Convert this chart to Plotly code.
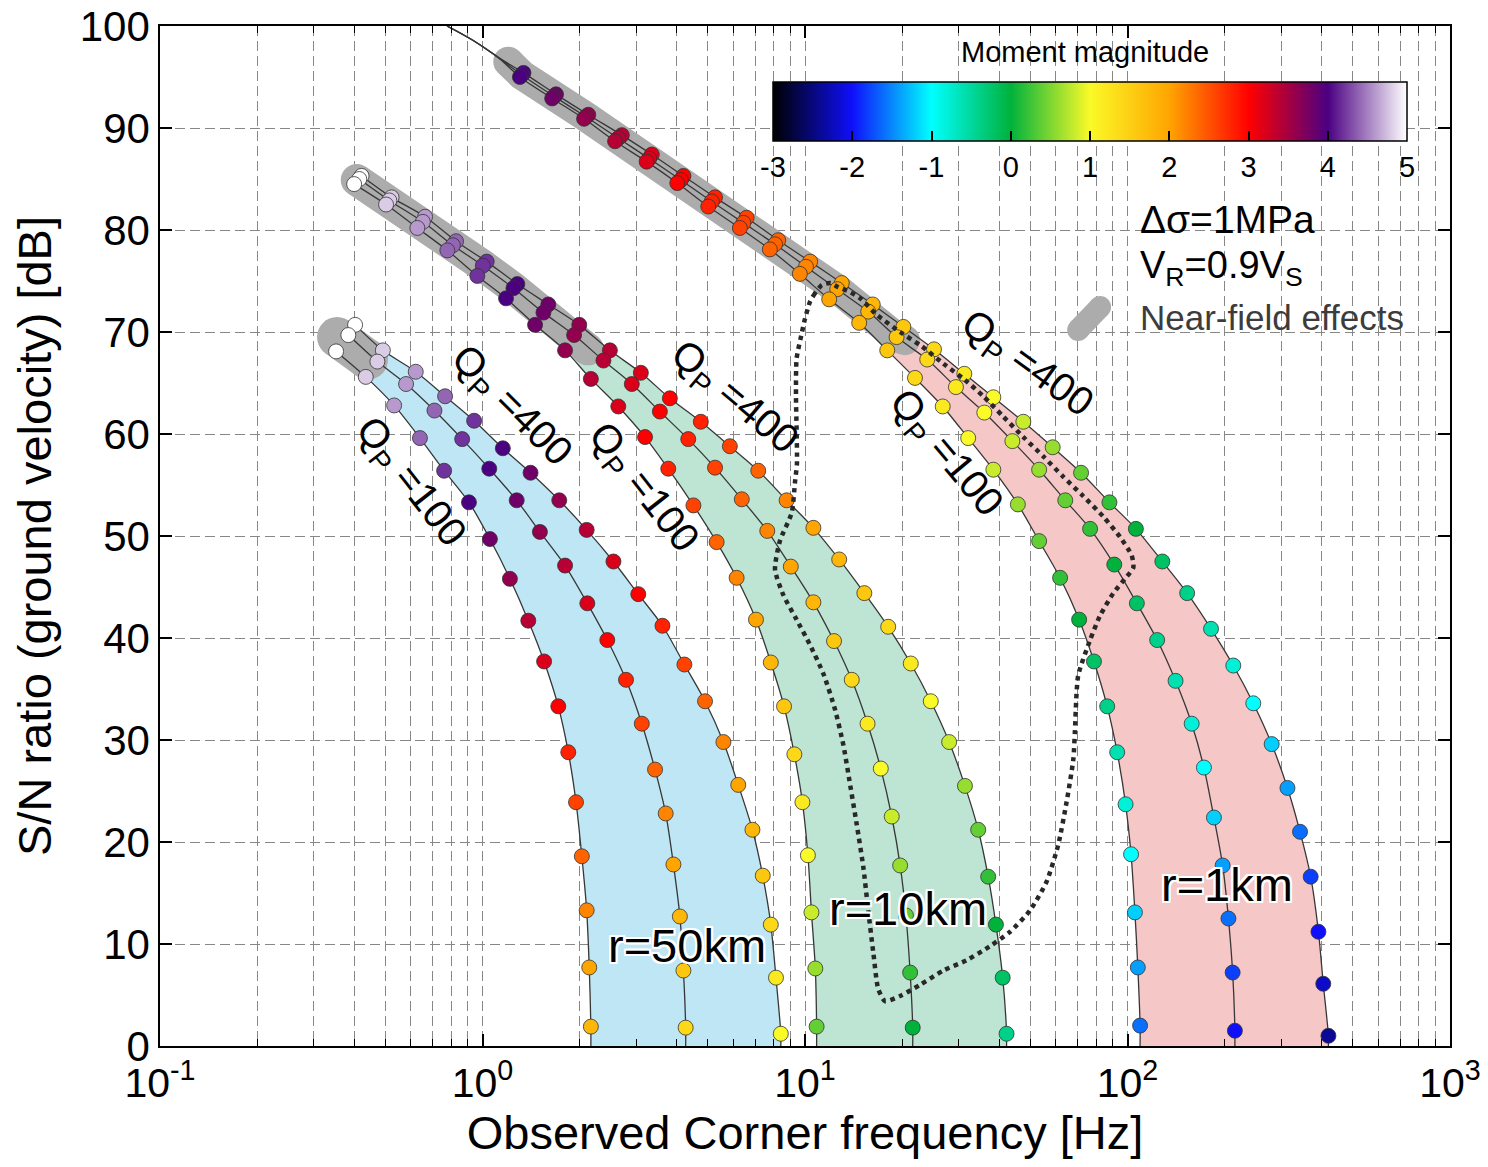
import plotly.graph_objects as go

FONT = "Liberation Sans, Arial, Helvetica, sans-serif"

# ---------------- data (log10 of corner frequency [Hz], S/N [dB], moment magnitude) ----------------
# r = 50 km
r50_q400_logf = [-0.395, -0.309, -0.207, -0.116, -0.026, 0.063, 0.149, 0.238, 0.323, 0.406, 0.483, 0.558, 0.626, 0.690, 0.747, 0.793, 0.837, 0.869, 0.894, 0.910, 0.925]
r50_q400_db = [70.7, 68.2, 66.1, 63.7, 61.3, 58.6, 56.2, 53.5, 50.6, 47.5, 44.3, 41.2, 37.4, 33.8, 29.8, 25.6, 21.2, 16.7, 11.9, 6.7, 1.2]
r50_q400_mw = [5.0, 4.8, 4.6, 4.4, 4.2, 4.0, 3.8, 3.6, 3.4, 3.2, 3.0, 2.8, 2.6, 2.4, 2.2, 2.0, 1.8, 1.6, 1.4, 1.2, 1.0]

r50_q200_logf = [-0.416, -0.326, -0.237, -0.149, -0.063, 0.021, 0.106, 0.178, 0.256, 0.325, 0.387, 0.445, 0.494, 0.535, 0.568, 0.592, 0.612, 0.623, 0.630]
r50_q200_db = [69.7, 67.1, 64.9, 62.3, 59.5, 56.6, 53.5, 50.4, 47.1, 43.4, 39.8, 35.9, 31.6, 27.1, 22.8, 17.8, 12.7, 7.4, 1.8]
r50_q200_mw = [5.0, 4.8, 4.6, 4.4, 4.2, 4.0, 3.8, 3.6, 3.4, 3.2, 3.0, 2.8, 2.6, 2.4, 2.2, 2.0, 1.8, 1.6, 1.4]

r50_q100_logf = [-0.454, -0.362, -0.274, -0.194, -0.119, -0.042, 0.023, 0.085, 0.142, 0.191, 0.235, 0.266, 0.290, 0.308, 0.323, 0.331, 0.336]
r50_q100_db = [68.1, 65.6, 62.8, 59.6, 56.4, 53.3, 49.7, 45.8, 41.7, 37.7, 33.3, 28.8, 23.9, 18.6, 13.3, 7.7, 1.9]
r50_q100_mw = [5.0, 4.8, 4.6, 4.4, 4.2, 4.0, 3.8, 3.6, 3.4, 3.2, 3.0, 2.8, 2.6, 2.4, 2.2, 2.0, 1.8]

# r = 10 km
r10_q400_logf = [-0.375, -0.282, -0.178, -0.082, 0.013, 0.108, 0.204, 0.300, 0.395, 0.491, 0.581, 0.677, 0.767, 0.855, 0.943, 1.026, 1.106, 1.184, 1.258, 1.328, 1.390, 1.447, 1.496, 1.537, 1.568, 1.592, 1.613, 1.625]
r10_q400_db = [85.3, 83.2, 81.3, 78.9, 76.9, 74.7, 72.7, 70.7, 68.2, 66.0, 63.5, 61.2, 58.8, 56.4, 53.5, 50.8, 47.7, 44.4, 41.1, 37.5, 33.8, 29.8, 25.5, 21.2, 16.6, 11.9, 6.7, 1.2]
r10_q400_mw = [5.0, 4.8, 4.6, 4.4, 4.2, 4.0, 3.8, 3.6, 3.4, 3.2, 3.0, 2.8, 2.6, 2.4, 2.2, 2.0, 1.8, 1.6, 1.4, 1.2, 1.0, 0.8, 0.6, 0.4, 0.2, 0.0, -0.2, -0.4]

r10_q200_logf = [-0.382, -0.289, -0.185, -0.092, 0.001, 0.096, 0.189, 0.284, 0.375, 0.463, 0.550, 0.638, 0.721, 0.804, 0.883, 0.956, 1.026, 1.090, 1.145, 1.194, 1.235, 1.269, 1.295, 1.313, 1.326, 1.334]
r10_q200_db = [85.0, 82.9, 80.8, 78.5, 76.5, 74.3, 71.9, 69.7, 67.2, 64.9, 62.2, 59.5, 56.7, 53.6, 50.5, 47.0, 43.5, 39.7, 35.9, 31.6, 27.2, 22.5, 17.7, 12.8, 7.2, 1.8]
r10_q200_mw = [5.0, 4.8, 4.6, 4.4, 4.2, 4.0, 3.8, 3.6, 3.4, 3.2, 3.0, 2.8, 2.6, 2.4, 2.2, 2.0, 1.8, 1.6, 1.4, 1.2, 1.0, 0.8, 0.6, 0.4, 0.2, 0.0]

r10_q100_logf = [-0.398, -0.299, -0.202, -0.109, -0.016, 0.073, 0.163, 0.256, 0.336, 0.421, 0.504, 0.576, 0.654, 0.726, 0.788, 0.848, 0.894, 0.935, 0.967, 0.992, 1.009, 1.020, 1.032, 1.036]
r10_q100_db = [84.5, 82.5, 80.2, 78.0, 75.5, 73.3, 70.7, 68.2, 65.4, 62.7, 59.7, 56.6, 53.0, 49.4, 45.9, 41.8, 37.6, 33.3, 28.6, 23.9, 18.7, 13.1, 7.6, 1.9]
r10_q100_mw = [5.0, 4.8, 4.6, 4.4, 4.2, 4.0, 3.8, 3.6, 3.4, 3.2, 3.0, 2.8, 2.6, 2.4, 2.2, 2.0, 1.8, 1.6, 1.4, 1.2, 1.0, 0.8, 0.6, 0.4]

# r = 1 km
r1_q400_logf = [0.127, 0.228, 0.328, 0.432, 0.525, 0.623, 0.721, 0.819, 0.917, 1.016, 1.114, 1.210, 1.305, 1.400, 1.494, 1.584, 1.677, 1.768, 1.856, 1.944, 2.026, 2.108, 2.185, 2.259, 2.328, 2.390, 2.447, 2.496, 2.535, 2.568, 2.592, 2.607, 2.623]
r1_q400_db = [95.4, 93.3, 91.3, 89.3, 87.4, 85.3, 83.2, 81.2, 79.0, 76.9, 74.8, 72.7, 70.5, 68.3, 65.9, 63.6, 61.2, 58.7, 56.2, 53.3, 50.7, 47.5, 44.4, 40.9, 37.3, 33.6, 29.6, 25.3, 21.0, 16.6, 11.2, 6.1, 1.0]
r1_q400_mw = [4.0, 3.8, 3.6, 3.4, 3.2, 3.0, 2.8, 2.6, 2.4, 2.2, 2.0, 1.8, 1.6, 1.4, 1.2, 1.0, 0.8, 0.6, 0.4, 0.2, 0.0, -0.2, -0.4, -0.6, -0.8, -1.0, -1.2, -1.4, -1.6, -1.8, -2.0, -2.2, -2.4]

r1_q200_logf = [0.122, 0.222, 0.321, 0.421, 0.517, 0.615, 0.711, 0.809, 0.907, 1.003, 1.100, 1.196, 1.284, 1.379, 1.468, 1.556, 1.643, 1.726, 1.807, 1.884, 1.959, 2.029, 2.092, 2.149, 2.199, 2.237, 2.268, 2.295, 2.313, 2.326, 2.333]
r1_q200_db = [95.2, 93.1, 91.1, 89.0, 87.0, 84.9, 82.8, 80.7, 78.6, 76.4, 74.2, 72.0, 69.5, 67.3, 64.6, 62.1, 59.3, 56.5, 53.5, 50.7, 47.2, 43.4, 39.8, 35.8, 31.6, 27.3, 22.4, 17.7, 12.5, 7.2, 1.5]
r1_q200_mw = [4.0, 3.8, 3.6, 3.4, 3.2, 3.0, 2.8, 2.6, 2.4, 2.2, 2.0, 1.8, 1.6, 1.4, 1.2, 1.0, 0.8, 0.6, 0.4, 0.2, 0.0, -0.2, -0.4, -0.6, -0.8, -1.0, -1.2, -1.4, -1.6, -1.8, -2.0]

r1_q100_logf = [0.116, 0.216, 0.315, 0.411, 0.509, 0.604, 0.700, 0.798, 0.891, 0.984, 1.075, 1.168, 1.255, 1.341, 1.427, 1.506, 1.584, 1.660, 1.726, 1.791, 1.850, 1.896, 1.937, 1.968, 1.994, 2.011, 2.023, 2.032, 2.039]
r1_q100_db = [95.0, 92.9, 90.9, 88.7, 86.7, 84.6, 82.3, 80.2, 78.1, 75.7, 73.2, 70.9, 68.2, 65.5, 62.7, 59.6, 56.5, 53.1, 49.5, 45.9, 41.8, 37.7, 33.3, 28.8, 23.7, 18.8, 13.1, 7.7, 2.0]
r1_q100_mw = [4.0, 3.8, 3.6, 3.4, 3.2, 3.0, 2.8, 2.6, 2.4, 2.2, 2.0, 1.8, 1.6, 1.4, 1.2, 1.0, 0.8, 0.6, 0.4, 0.2, 0.0, -0.2, -0.4, -0.6, -0.8, -1.0, -1.2, -1.4, -1.6]

# r = 1 km curves continue (no markers) up to the top of the axes
r1_ext_logf = [-0.110, -0.030, 0.045]
r1_ext_db = [100.0, 98.6, 97.0]

# near-field (grey) bands along each family
r50_band_logf = [-0.451, -0.355]
r50_band_db = [69.5, 67.3]
r10_band_logf = [-0.390, -0.289, -0.185, -0.092, 0.001, 0.096, 0.189, 0.284, 0.327]
r10_band_db = [84.9, 82.9, 80.8, 78.5, 76.5, 74.3, 71.9, 69.7, 68.3]
r1_band_logf = [0.080, 0.122, 0.321, 0.517, 0.711, 0.907, 1.100, 1.284, 1.310]
r1_band_db = [96.5, 95.2, 91.1, 87.0, 82.8, 78.6, 74.2, 69.5, 69.2]

# dotted boundary
dot_logf = [1.052, 1.031, 1.016, 1.000, 0.990, 0.974, 0.972, 0.974, 0.975, 0.969, 0.959, 0.922, 0.907, 0.933,
            0.974, 1.016, 1.057, 1.093, 1.119, 1.140, 1.160, 1.181, 1.196, 1.212, 1.227, 1.248, 1.295, 1.357,
            1.429, 1.501, 1.574, 1.636, 1.698, 1.749, 1.785, 1.811, 1.832, 1.837, 1.847, 1.884, 1.915, 1.956,
            1.992, 2.018, 2.013, 1.977, 1.925, 1.863, 1.801, 1.739, 1.677, 1.615, 1.553, 1.496, 1.429, 1.362,
            1.295, 1.222, 1.171, 1.134, 1.103, 1.078, 1.052]
dot_db = [74.6, 73.8, 73.0, 71.3, 69.9, 67.4, 63.7, 60.4, 57.1, 55.3, 52.3, 49.5, 46.7, 44.2,
          41.8, 39.3, 36.5, 33.0, 29.5, 25.6, 21.8, 17.5, 13.3, 9.1, 5.6, 4.4, 4.9, 6.0,
          7.4, 8.4, 9.8, 11.2, 13.3, 16.1, 19.7, 23.9, 28.1, 30.9, 36.3, 39.8, 42.2, 44.4,
          45.8, 46.9, 48.1, 49.9, 51.9, 53.9, 55.8, 57.8, 59.7, 61.7, 63.7, 65.3, 66.9, 68.6,
          70.0, 71.7, 73.3, 74.0, 74.4, 74.8, 74.6]

colorbar_ticks = [-3, -2, -1, 0, 1, 2, 3, 4, 5]
colorbar_ticktext = ['-3', '-2', '-1', '0', '1', '2', '3', '4', '5']
x_tickvals = [0.1, 1, 10, 100, 1000]
x_ticktext = ["10<sup>-1</sup>", "10<sup>0</sup>", "10<sup>1</sup>", "10<sup>2</sup>", "10<sup>3</sup>"]

# ---------------- styling ----------------
CSCALE = [[0.0, 'rgb(0,0,0)'], [0.125, 'rgb(15,15,250)'], [0.25, 'rgb(0,255,255)'],
          [0.375, 'rgb(0,178,60)'], [0.5, 'rgb(250,250,40)'], [0.625, 'rgb(255,165,0)'],
          [0.75, 'rgb(255,0,0)'], [0.875, 'rgb(75,0,130)'], [1.0, 'rgb(255,255,255)']]
GRAY = 'rgb(172,172,172)'
LINEC = 'rgb(55,55,55)'
GRIDC = 'rgb(135,135,135)'

# figure / plot-area geometry in pixels (page body adds an 8 px margin)
FIG_W, FIG_H = 1480, 1151
ML, MT, PW, PH = 152, 18, 1290, 1020
CB_X0, CB_LEN, CB_TOP, CB_THICK = 765, 634, 74, 59   # figure coordinates
CB_TITLE_Y = 44


def hz(logs):
    return [10 ** v for v in logs]


def paper_y(py):
    return (MT + PH - py) / PH


families = [
    dict(curves=[(r50_q400_logf, r50_q400_db, r50_q400_mw), (r50_q200_logf, r50_q200_db, r50_q200_mw),
                 (r50_q100_logf, r50_q100_db, r50_q100_mw)],
         ext=None, fill='rgb(190,230,245)', band=(r50_band_logf, r50_band_db), bw=40),
    dict(curves=[(r10_q400_logf, r10_q400_db, r10_q400_mw), (r10_q200_logf, r10_q200_db, r10_q200_mw),
                 (r10_q100_logf, r10_q100_db, r10_q100_mw)],
         ext=None, fill='rgb(190,228,211)', band=(r10_band_logf, r10_band_db), bw=32),
    dict(curves=[(r1_q400_logf, r1_q400_db, r1_q400_mw), (r1_q200_logf, r1_q200_db, r1_q200_mw),
                 (r1_q100_logf, r1_q100_db, r1_q100_mw)],
         ext=(r1_ext_logf, r1_ext_db), fill='rgb(245,199,199)', band=(r1_band_logf, r1_band_db), bw=30),
]

fig = go.Figure()

# fills between Q=100 and Q=400
for fam in families:
    (l4, d4, _), _, (l1, d1, _) = fam['curves']
    el, ed = fam['ext'] if fam['ext'] else ([], [])
    xs = el + l1 + [l1[-1], l4[-1]] + l4[::-1] + el[::-1]
    ys = ed + d1 + [0, 0] + d4[::-1] + ed[::-1]
    fig.add_trace(go.Scatter(x=hz(xs), y=ys, mode='lines', fill='toself', fillcolor=fam['fill'],
                             line=dict(width=0), hoverinfo='skip', showlegend=False))

# grey near-field bands
for fam in families:
    bl, bd = fam['band']
    fig.add_trace(go.Scatter(x=hz(bl), y=bd, mode='lines', line=dict(color=GRAY, width=fam['bw']),
                             hoverinfo='skip', showlegend=False))
    fig.add_trace(go.Scatter(x=hz([bl[0], bl[-1]]), y=[bd[0], bd[-1]], mode='markers',
                             marker=dict(size=fam['bw'], color=GRAY, line=dict(width=0)),
                             hoverinfo='skip', showlegend=False))

# curve lines
for fam in families:
    el, ed = fam['ext'] if fam['ext'] else ([], [])
    for (lf, db, mw) in fam['curves']:
        xs = el + lf + [lf[-1]]
        ys = ed + db + [0]
        fig.add_trace(go.Scatter(x=hz(xs), y=ys, mode='lines',
                                 line=dict(color=LINEC, width=1.3, shape='spline', smoothing=0.8),
                                 hoverinfo='skip', showlegend=False))

# markers
first = True
for fam in families:
    for (lf, db, mw) in fam['curves']:
        mk = dict(size=15, color=mw, colorscale=CSCALE, cmin=-3, cmax=5,
                  line=dict(color='rgb(50,50,50)', width=0.8))
        if first:
            mk.update(showscale=True, colorbar=dict(
                orientation='h', x=(CB_X0 - ML) / PW, xanchor='left', y=paper_y(CB_TOP), yanchor='top',
                len=CB_LEN, lenmode='pixels', thickness=CB_THICK, thicknessmode='pixels',
                outlinecolor='black', outlinewidth=1.5, ticks='inside', ticklen=10, tickwidth=1.5,
                tickcolor='black', tickvals=colorbar_ticks, ticktext=colorbar_ticktext,
                tickfont=dict(size=29, family=FONT, color='black'),
                xpad=0, ypad=0, bgcolor='rgba(0,0,0,0)'))
            first = False
        else:
            mk.update(showscale=False)
        fig.add_trace(go.Scatter(x=hz(lf), y=db, mode='markers', marker=mk, hoverinfo='skip', showlegend=False))

# dotted boundary
fig.add_trace(go.Scatter(x=hz(dot_logf), y=dot_db, mode='lines',
                         line=dict(color='rgb(40,40,40)', width=4.5, dash='dot', shape='spline', smoothing=0.6),
                         hoverinfo='skip', showlegend=False))

# legend swatch for near-field effects
fig.add_trace(go.Scatter(x=hz([1.847, 1.915]), y=[70.2, 72.45], mode='lines+markers',
                         line=dict(color=GRAY, width=22), marker=dict(size=22, color=GRAY, line=dict(width=0)),
                         hoverinfo='skip', showlegend=False))

minor_vals = [k * 10 ** d for d in (-1, 0, 1, 2) for k in range(2, 10)]

fig.update_xaxes(type='log', range=[-1, 3], automargin=False, showline=True, linecolor='black', linewidth=1.5,
                 mirror='ticks', ticks='inside', ticklen=12, tickwidth=1.5, tickcolor='black',
                 tickvals=x_tickvals, ticktext=x_ticktext, tickfont=dict(size=41, family=FONT, color='black'),
                 ticklabeloverflow='allow',
                 showgrid=True, gridcolor=GRIDC, gridwidth=1, griddash='10px,5px', zeroline=False,
                 minor=dict(tickvals=minor_vals, ticks='inside', ticklen=7, tickwidth=1.2, tickcolor='black',
                            showgrid=True, gridcolor=GRIDC, gridwidth=1, griddash='10px,5px'),
                 title=dict(text='Observed Corner frequency [Hz]', font=dict(size=47, family=FONT, color='black'),
                            standoff=17))
fig.update_yaxes(range=[0, 100], tickvals=list(range(0, 101, 10)), automargin=False, showline=True,
                 linecolor='black', linewidth=1.5, mirror='ticks', ticks='inside', ticklen=12, tickwidth=1.5,
                 tickcolor='black', tickfont=dict(size=42, family=FONT, color='black'),
                 ticklabeloverflow='allow',
                 showgrid=True, gridcolor=GRIDC, gridwidth=1, griddash='10px,5px', zeroline=False,
                 title=dict(text='S/N ratio (ground velocity) [dB]', font=dict(size=47, family=FONT, color='black'),
                            standoff=18))

# colourbar ticks on the upper edge (mirror of the inside ticks)
shapes = []
for v in colorbar_ticks[1:-1]:
    xp = (CB_X0 + (v + 3) / 8 * CB_LEN - ML) / PW
    shapes.append(dict(type='line', xref='paper', yref='paper', x0=xp, x1=xp,
                       y0=paper_y(CB_TOP), y1=paper_y(CB_TOP + 10),
                       line=dict(color='black', width=1.5)))

ann = []
ann.append(dict(x=(CB_X0 + CB_LEN / 2 - 5 - ML) / PW, y=paper_y(CB_TITLE_Y), xref='paper', yref='paper',
                xanchor='center', yanchor='middle',
                text='Moment magnitude', showarrow=False, font=dict(size=29, family=FONT, color='black')))
SH = ("2px 0 0 white, -2px 0 0 white, 0 2px 0 white, 0 -2px 0 white, "
      "2px 2px 0 white, -2px -2px 0 white, 2px -2px 0 white, -2px 2px 0 white")
for (x, y, t) in [(0.634, 9.9, 'r=50km'), (1.319, 13.5, 'r=10km'), (2.309, 15.8, 'r=1km')]:
    ann.append(dict(x=x, y=y, xref='x', yref='y', text=t, showarrow=False,
                    font=dict(size=47, family=FONT, color='black', shadow=SH)))
for (x, y, t, a) in [(0.088, 62.65, 'Q<sub>P</sub> =400', 45), (-0.225, 55.2, 'Q<sub>P</sub> =100', 52),
                     (0.777, 63.5, 'Q<sub>P</sub> =400', 40), (0.495, 54.7, 'Q<sub>P</sub> =100', 52),
                     (1.688, 66.8, 'Q<sub>P</sub> =400', 36), (1.434, 58.0, 'Q<sub>P</sub> =100', 50)]:
    ann.append(dict(x=x, y=y, xref='x', yref='y', text=t, showarrow=False, textangle=a,
                    font=dict(size=40, family=FONT, color='black')))
ann.append(dict(x=2.034, y=81.0, xref='x', yref='y', text='Δσ=1MPa', showarrow=False, xanchor='left',
                font=dict(size=39, family=FONT, color='black')))
ann.append(dict(x=2.034, y=76.3, xref='x', yref='y', text='V<sub>R</sub>=0.9V<sub>S</sub>', showarrow=False,
                xanchor='left', font=dict(size=38, family=FONT, color='black')))
ann.append(dict(x=2.034, y=71.4, xref='x', yref='y', text='Near-field effects', showarrow=False, xanchor='left',
                font=dict(size=35, family=FONT, color='rgb(60,60,60)')))

fig.update_layout(width=FIG_W, height=FIG_H,
                  margin=dict(l=ML, r=FIG_W - ML - PW, t=MT, b=FIG_H - MT - PH),
                  paper_bgcolor='white', plot_bgcolor='white', showlegend=False,
                  font=dict(family=FONT, color='black'), annotations=ann, shapes=shapes)

fig.write_html("out.html")
